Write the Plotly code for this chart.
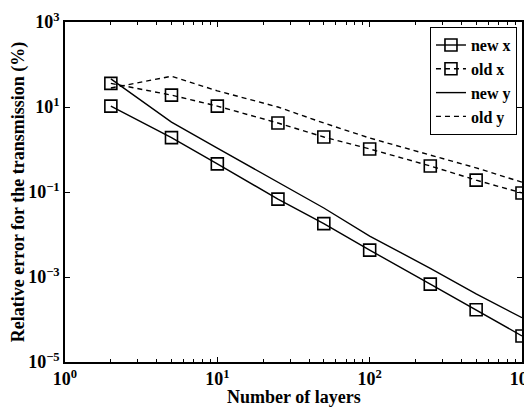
import plotly.graph_objects as go

layers = [2, 5, 10, 25, 50, 100, 250, 500, 1000]
new_x = [10.5, 1.9, 0.46, 0.068, 0.018, 0.0043, 6.8e-4, 1.7e-4, 4.1e-5]
old_x = [36, 19, 10.5, 4.2, 1.97, 1.03, 0.41, 0.19, 0.095]
new_y = [46, 4.4, 1.08, 0.17, 0.042, 0.0092, 0.0016, 4.0e-4, 1.1e-4]
old_y = [28, 53, 24, 10, 4.2, 1.86, 0.74, 0.37, 0.17]

x_tick_vals = [1, 10, 100, 1000]
x_tick_text = ["10<sup>0</sup>", "10<sup>1</sup>", "10<sup>2</sup>", "10<sup>3</sup>"]
x_minor_vals = [m * 10 ** e for e in range(3) for m in range(2, 10)]
y_tick_vals = [1e-5, 1e-3, 1e-1, 1e1, 1e3]
y_tick_text = ["10<sup>−5</sup>", "10<sup>−3</sup>", "10<sup>−1</sup>", "10<sup>1</sup>", "10<sup>3</sup>"]

FONT = "Liberation Serif"

fig = go.Figure()
fig.add_trace(go.Scatter(x=layers, y=new_x, name="new x", mode="lines+markers",
                         line=dict(color="black", width=1.4),
                         marker=dict(symbol="square-open", size=12, color="black", line=dict(width=1.6))))
fig.add_trace(go.Scatter(x=layers, y=old_x, name="old x", mode="lines+markers",
                         line=dict(color="black", width=1.4, dash="5px,4px"),
                         marker=dict(symbol="square-open", size=12, color="black", line=dict(width=1.6))))
fig.add_trace(go.Scatter(x=layers, y=new_y, name="new y", mode="lines",
                         line=dict(color="black", width=1.4)))
fig.add_trace(go.Scatter(x=layers, y=old_y, name="old y", mode="lines",
                         line=dict(color="black", width=1.4, dash="5px,4px")))

axis_common = dict(type="log", showgrid=False, zeroline=False, showline=True, linecolor="black",
                   linewidth=1.5, mirror="allticks", ticks="inside", ticklen=5, tickcolor="black",
                   tickmode="array", automargin=False, ticklabeloverflow="allow",
                   tickfont=dict(family=FONT, size=18, color="black", weight="bold"))

fig.update_xaxes(**axis_common, range=[0, 3], tickvals=x_tick_vals, ticktext=x_tick_text,
                 minor=dict(ticks="inside", ticklen=3, tickcolor="black", tickmode="array",
                            tickvals=x_minor_vals))
fig.update_yaxes(**axis_common, range=[-5, 3], tickvals=y_tick_vals, ticktext=y_tick_text,
                 title=dict(text="Relative error for the transmission (%)", standoff=2,
                            font=dict(family=FONT, size=18, color="black", weight="bold")))

fig.add_annotation(text="Number of layers", xref="paper", yref="paper", x=0.5, y=-0.103,
                   xanchor="center", yanchor="middle", showarrow=False,
                   font=dict(family=FONT, size=18, color="black", weight="bold"))

fig.update_layout(
    width=532, height=411,
    margin=dict(l=57, r=18, t=14, b=57),
    paper_bgcolor="white", plot_bgcolor="white",
    showlegend=True,
    legend=dict(x=0.989, y=0.985, xanchor="right", yanchor="top",
                bgcolor="white", bordercolor="black", borderwidth=1,
                font=dict(family=FONT, size=16, color="black", weight="bold"),
                tracegroupgap=0),
)

fig.write_html("out.html")
